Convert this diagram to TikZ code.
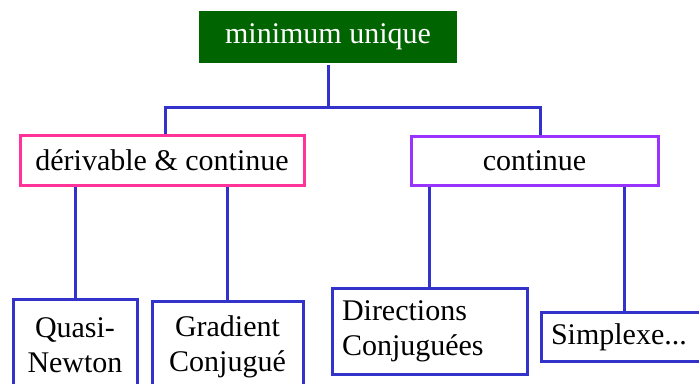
\documentclass[tikz,border=0pt]{standalone}
\usepackage{fontspec}
\setmainfont{Liberation Serif}
\usepackage{tikz}
\definecolor{topgreen}{RGB}{0,100,0}
\definecolor{pinkline}{RGB}{255,51,153}
\definecolor{purpleline}{RGB}{153,51,255}
\definecolor{blueline}{RGB}{51,51,204}

\begin{document}
\begin{tikzpicture}[x=1pt,y=-1pt, every node/.style={font=\fontsize{30}{35}\selectfont}]
\tikzstyle{box}=[draw,line width=3pt,fill=white,align=center,inner sep=0pt]
\tikzstyle{link}=[draw=blueline,line width=3pt]
\useasboundingbox (0,0) rectangle (699,383);
\clip (0,0) rectangle (699,383);
\node[box,draw=none,fill=topgreen,text=white,minimum width=258pt,minimum height=52pt] (top) at (328,37) {minimum unique};
\node[box,draw=pinkline,minimum width=284pt,minimum height=50pt] (deriv) at (162,160) {dérivable \& continue};
\node[box,draw=purpleline,minimum width=247pt,minimum height=49pt] (cont) at (534.5,160.5) {continue};
\node[box,draw=blueline,minimum width=124pt,minimum height=92pt] (quasi) at (75,345) {Quasi-\\Newton};
\node[box,draw=blueline,minimum width=151pt,minimum height=92pt] (grad) at (227.5,347) {Gradient\\Conjugué};
\node[box,draw=blueline,align=left,text width=175pt,minimum width=195pt,minimum height=86pt] (dirs) at (429.5,331) {Directions\\Conjuguées};
\node[box,draw=blueline,align=left,text width=147pt,minimum width=167pt,minimum height=49pt] (simp) at (624.5,337) {Simplexe...};
\coordinate (busL) at (165,107);
\coordinate (busR) at (540,107);
\draw[link] (top.south) -- (top.south |- busL);
\draw[link] (deriv.north -| busL) -- (busL) -- (busR) -- (busR |- cont.north);
\draw[link] (deriv.south -| quasi) -- (quasi.north);
\draw[link] (deriv.south -| grad) -- (grad.north);
\draw[link] (cont.south -| dirs) -- (dirs.north);
\draw[link] (cont.south -| simp) -- (simp.north);
\end{tikzpicture}
\end{document}
